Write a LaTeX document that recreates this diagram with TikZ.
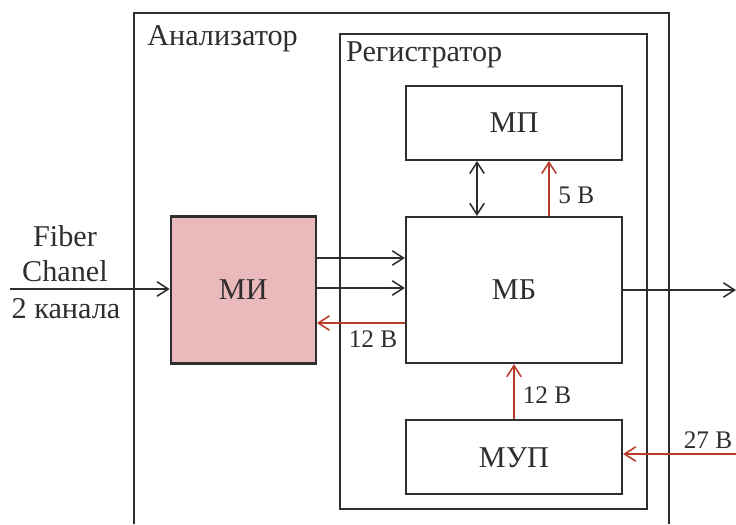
\documentclass[tikz,border=0pt]{standalone}
\usepackage{fontspec}
\setmainfont{Liberation Serif}
\usetikzlibrary{arrows.meta,positioning,calc}
\definecolor{ink}{HTML}{2E2E2E}
\definecolor{volt}{HTML}{B83A28}
\definecolor{pink}{HTML}{EAB9BC}
\tikzset{
 block/.style={draw=ink,line width=1.6pt,minimum width=54mm,align=center,text=ink},
 frame/.style={draw=ink,line width=1.6pt},
 flow/.style={->,draw=ink,line width=1.1pt},
 power/.style={flow,draw=volt},
 title/.style={text=ink,inner sep=0pt},
 volts/.style={text=ink,font=\fontsize{18}{20}\selectfont,inner sep=0pt}
}

\begin{document}
\begin{tikzpicture}[x=1mm,y=1mm,font=\fontsize{21.5}{25}\selectfont,node distance=13.75mm,
  >={Straight Barb[length=2.8mm,width=3.6mm]}]
  \useasboundingbox (0,0) rectangle (184,-131);

  \node[block,minimum height=36.5mm] (mb) at (128.5,-72.5) {МБ};
  \node[block,minimum height=18.5mm,above=of mb] (mp) {МП};
  \node[block,minimum height=18.5mm,below=of mb] (mup) {МУП};
  \node[block,fill=pink,minimum width=36.25mm,minimum height=36.75mm,left=22mm of mb] (mi) {МИ};

  % outer and inner frames
  \draw[frame] (33.5,-131) |- (167.25,-3.25) -- (167.25,-131);
  \node[title,anchor=base west] (analyzer) at (36.75,-11.25) {Анализатор};
  \node[frame,minimum width=76.75mm,minimum height=118.75mm] (reg) at (123.375,-67.875) {};
  \node[title,anchor=base west] (regname) at ([xshift=1.75mm,yshift=-7.25mm]reg.north west) {Регистратор};

  % input
  \coordinate (fin) at (2.5,-72.25);
  \draw[flow] (fin) -- (fin -| mi.west);
  \node[title,anchor=south,align=center] (fiber) at (16.25,-70.5) {Fiber\\Chanel};
  \node[title,anchor=base] (chan) at (16.5,-79.5) {2 канала};

  \draw[flow] ([yshift=8mm]mi.east) -- ([yshift=8mm]mi.east -| mb.west);
  \draw[flow] ([yshift=0.5mm]mi.east) -- ([yshift=0.5mm]mi.east -| mb.west);
  \draw[power] ([yshift=-8.25mm]mb.west) -- ([yshift=-8.25mm]mb.west -| mi.east);
  \node[volts,anchor=base] (v12a) at (93.25,-86.75) {12 В};

  \draw[flow,<->] ([xshift=-9.25mm]mb.north) -- ([xshift=-9.25mm]mb.north |- mp.south);
  \draw[power] ([xshift=8.75mm]mb.north) -- ([xshift=8.75mm]mb.north |- mp.south);
  \node[volts,anchor=base] (v5) at (144.1,-50.75) {5 В};

  \draw[power] (mup) -- (mb);
  \node[volts,anchor=base] (v12b) at (136.75,-100.75) {12 В};

  \coordinate (pin) at (184,-113.5);
  \draw[power] (pin) -- (pin -| mup.east);
  \node[volts,anchor=base] (v27) at (177,-112) {27 В};

  \coordinate (out) at (184,-72.25);
  \draw[flow] (mb.east) -- (mb.east -| out);
\end{tikzpicture}
\end{document}
